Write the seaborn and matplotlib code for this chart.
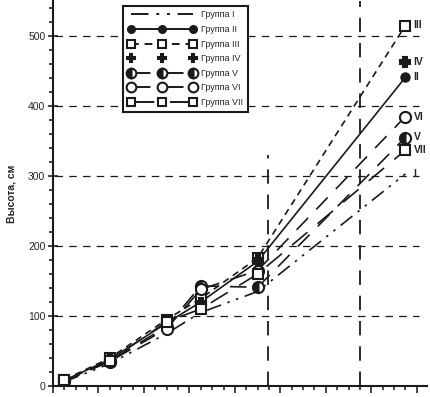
import matplotlib
matplotlib.use("Agg")
import matplotlib.pyplot as plt
import seaborn as sns
import numpy as np
import pandas as pd
from matplotlib.lines import Line2D

# ---- data ----
ages = [1, 5, 10, 13, 18, 31]
group_names = ["I", "II", "III", "IV", "V", "VI", "VII"]
g1 = [6, 32, 75, 105, 135, 303]
g2 = [8, 38, 90, 120, 178, 441]
g3 = [9, 40, 95, 125, 183, 515]
g4 = [8, 37, 88, 118, 180, 463]
g5 = [7, 36, 85, 143, 141, 355]
g6 = [7, 35, 82, 138, 165, 385]
g7 = [8, 36, 92, 110, 160, 337]
series = [g1, g2, g3, g4, g5, g6, g7]
yticks = [0, 100, 200, 300, 400, 500]
vlines_x = [18.9, 27.0]
vline1_top = 330

sns.set_theme(style="white")
plt.rcParams["font.family"] = ["Liberation Sans", "DejaVu Sans"]

fig = plt.figure(figsize=(4.30, 3.97), dpi=100)
ax = fig.add_axes([53/430, 11/397, 374/430, 385/397])

styles = [
    dict(linestyle=(0, (9, 4, 1.5, 4, 1.5, 4)), marker=None),
    dict(linestyle="-", marker="o", markerfacecolor="k", markersize=6),
    dict(linestyle=(0, (4, 3)), marker="s", markerfacecolor="white", markersize=7),
    dict(linestyle="none", marker="P", markerfacecolor="k", markersize=7),
    dict(linestyle=(0, (10, 7)), marker="o", fillstyle="left", markerfacecolor="k",
         markerfacecoloralt="white", markersize=8),
    dict(linestyle=(0, (10, 7)), marker="o", markerfacecolor="white", markersize=8),
    dict(linestyle=(0, (12, 8)), marker="s", markerfacecolor="white", markersize=7),
]

handles = []
for name, vals, st in zip(group_names, series, styles):
    df = pd.DataFrame({"x": ages, "y": vals})
    sns.lineplot(data=df, x="x", y="y", ax=ax, color="k", linewidth=1.2,
                 markeredgecolor="k", markeredgewidth=1.5, **st)
    hst = dict(st)
    if hst.get("marker") is not None:
        hst["markersize"] = hst["markersize"] - 1
    handles.append(Line2D([], [], color="k", linewidth=1.4, markeredgecolor="k",
                          markeredgewidth=1.5, label=f"Группа {name}", **hst))
    ax.annotate(name, xy=(ages[-1], vals[-1]), xytext=(6, 0),
                textcoords="offset points", ha="left", va="center",
                fontsize=7.5, fontweight="bold")

# grid lines
ax.hlines(yticks[1:], 0.2, 32.2, colors="k", linestyles=(0, (6, 5)), linewidth=0.9)
ax.vlines(vlines_x[0], 0, vline1_top, colors="k", linestyles=(0, (8, 6)), linewidth=1.3)
ax.vlines(vlines_x[1], 0, 550, colors="k", linestyles=(0, (8, 6)), linewidth=1.3)

ax.set_xlim(0, 32.9)
ax.set_ylim(0, 550)
ax.set_yticks(yticks)
ax.set_yticks(np.arange(0, 551, 20), minor=True)
ax.set_xticks(np.arange(0, 33, 4))
ax.set_xticks(np.arange(0, 33, 1), minor=True)
ax.set_xticklabels([])
ax.tick_params(axis="y", which="major", direction="inout", length=7, width=1.2,
               labelsize=7.5, pad=2, left=True)
ax.tick_params(axis="y", which="minor", direction="out", length=3, width=1.2, left=True)
ax.tick_params(axis="x", which="major", direction="out", length=5, width=1.2, bottom=True)
ax.tick_params(axis="x", which="minor", direction="out", length=3, width=1.2, bottom=True)
for s in ["top", "right"]:
    ax.spines[s].set_visible(False)
for s in ["left", "bottom"]:
    ax.spines[s].set_color("k")
    ax.spines[s].set_linewidth(1.5)
ax.set_xlabel("")
ax.set_ylabel("Высота, см", fontsize=7.5, fontweight="bold", labelpad=8)

leg = ax.legend(handles=handles, loc="upper left", bbox_to_anchor=(0.175, 1.0),
                fontsize=6.5, frameon=True, fancybox=False, numpoints=3,
                handlelength=7.5, labelspacing=0.62, borderpad=0.55, handletextpad=0.6)
leg.get_frame().set_edgecolor("k")
leg.get_frame().set_linewidth(1.5)
leg.get_frame().set_facecolor("white")
leg.get_frame().set_alpha(1)

fig.savefig("out.png", dpi=100, facecolor="white")
